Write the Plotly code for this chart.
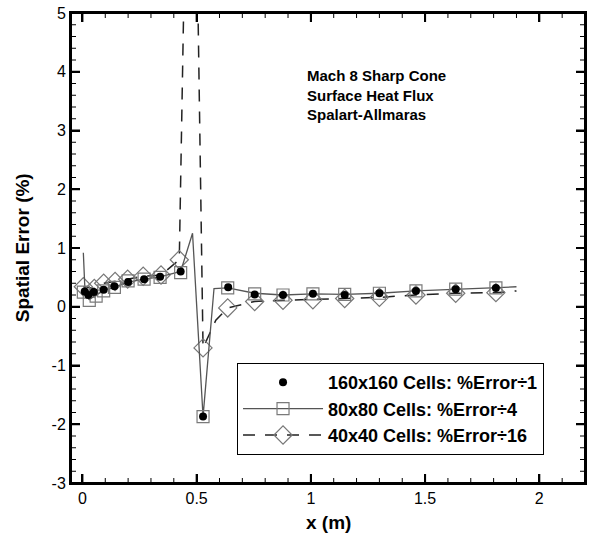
import numpy as np
import plotly.graph_objects as go

# 160x160 cells (%Error / 1) - symbols only
x160 = [0.01, 0.026, 0.05, 0.093, 0.14, 0.2, 0.27, 0.34, 0.43, 0.528, 0.638, 0.754, 0.878, 1.009, 1.148, 1.3, 1.46, 1.634, 1.81]
y160 = [0.26, 0.2, 0.25, 0.29, 0.35, 0.42, 0.47, 0.51, 0.6, -1.87, 0.33, 0.21, 0.2, 0.22, 0.2, 0.23, 0.27, 0.3, 0.32]

# 80x80 cells (%Error / 4) - full line
x80_line = [0.004, 0.012, 0.03, 0.06, 0.093, 0.14, 0.2, 0.27, 0.34, 0.43, 0.482, 0.528, 0.576, 0.636, 0.754, 0.878, 1.009, 1.148, 1.3, 1.46, 1.634, 1.81, 1.9]
y80_line = [0.92, 0.2, 0.12, 0.2, 0.27, 0.33, 0.42, 0.47, 0.51, 0.6, 1.25, -1.87, 0.31, 0.32, 0.23, 0.2, 0.22, 0.21, 0.23, 0.27, 0.3, 0.32, 0.34]
# 80x80 symbols
x80_sym = [0.004, 0.03, 0.06, 0.093, 0.14, 0.2, 0.27, 0.34, 0.43, 0.528, 0.636, 0.754, 0.878, 1.009, 1.148, 1.3, 1.46, 1.634, 1.81]
y80_sym = [0.25, 0.11, 0.18, 0.27, 0.33, 0.44, 0.47, 0.5, 0.58, -1.87, 0.32, 0.22, 0.2, 0.22, 0.21, 0.23, 0.27, 0.3, 0.32]

# 40x40 cells (%Error / 16) - full line
x40_line = [0.004, 0.052, 0.093, 0.143, 0.198, 0.266, 0.344, 0.424, 0.477, 0.528, 0.584, 0.636, 0.754, 0.878, 1.009, 1.148, 1.3, 1.46, 1.634, 1.81, 1.9]
y40_line = [0.34, 0.31, 0.4, 0.43, 0.47, 0.52, 0.54, 0.8, 12.6, -0.7, -0.23, -0.02, 0.09, 0.11, 0.12, 0.14, 0.16, 0.2, 0.23, 0.24, 0.27]
# 40x40 symbols
x40_sym = [0.004, 0.052, 0.093, 0.143, 0.198, 0.266, 0.344, 0.424, 0.528, 0.636, 0.754, 0.878, 1.009, 1.148, 1.3, 1.46, 1.634, 1.81]
y40_sym = [0.34, 0.31, 0.4, 0.43, 0.47, 0.52, 0.54, 0.8, -0.7, -0.02, 0.09, 0.11, 0.12, 0.14, 0.16, 0.2, 0.23, 0.24]

names = ["160x160 Cells: %Error÷1", "80x80 Cells: %Error÷4", "40x40 Cells: %Error÷16"]

# axis ticks
x_range = [-0.05, 2.2]
y_range = [-3, 5]
x_major = [0, 0.5, 1, 1.5, 2]
y_major = [-3, -2, -1, 0, 1, 2, 3, 4, 5]
x_minor_step = 0.1
y_minor_step = 0.2

FONT = "Arial, Liberation Sans, sans-serif"
W, H = 593, 537
ML, MR, MT, MB = 71, 8, 13, 54
PW, PH = W - ML - MR, H - MT - MB
MAJ, MIN = 9, 5

line80 = dict(color="#555555", width=1.3)
line40 = dict(color="#222222", width=1.5, dash="12px,10px")
sq = dict(symbol="square-open", size=12, color="#7a7a7a", line=dict(width=1.2))
dm = dict(symbol="diamond-open", size=14, color="#777777", line=dict(width=1.2))
ci = dict(symbol="circle", size=8, color="black")

fig = go.Figure()
fig.add_trace(go.Scatter(x=x40_line, y=y40_line, mode="lines", line=line40, showlegend=False))
fig.add_trace(go.Scatter(x=x40_sym, y=y40_sym, mode="markers", marker=dm, showlegend=False))
fig.add_trace(go.Scatter(x=x80_line, y=y80_line, mode="lines", line=line80, showlegend=False))
fig.add_trace(go.Scatter(x=x80_sym, y=y80_sym, mode="markers", marker=sq, showlegend=False))
fig.add_trace(go.Scatter(x=x160, y=y160, mode="markers", marker=ci, showlegend=False))
fig.add_trace(go.Scatter(x=[None], y=[None], mode="markers", marker=ci, name=names[0]))
fig.add_trace(go.Scatter(x=[None], y=[None], mode="lines+markers", line=line80, marker=sq, name=names[1]))
fig.add_trace(go.Scatter(x=[None], y=[None], mode="lines+markers", line=line40, marker=dm, name=names[2]))

# tick marks on all four sides (drawn as shapes so they always show)
x_minor = [v for v in np.round(np.arange(0, x_range[1], x_minor_step), 3) if not np.isclose(v % 0.5, 0) and not np.isclose(v % 0.5, 0.5)]
y_minor = [v for v in np.round(np.arange(y_range[0], y_range[1], y_minor_step), 3) if not np.isclose(v, round(v))]
shapes = []
tk = dict(color="black")
for vals, ln, w in ((x_major, MAJ, 2), (x_minor, MIN, 1)):
    for v in vals:
        shapes.append(dict(type="line", xref="x", yref="paper", x0=v, x1=v, y0=0, y1=ln / PH, line=dict(width=w, **tk)))
        shapes.append(dict(type="line", xref="x", yref="paper", x0=v, x1=v, y0=1, y1=1 - ln / PH, line=dict(width=w, **tk)))
for vals, ln, w in ((y_major, MAJ, 2), (y_minor, MIN, 1)):
    for v in vals:
        shapes.append(dict(type="line", xref="paper", yref="y", y0=v, y1=v, x0=0, x1=ln / PW, line=dict(width=w, **tk)))
        shapes.append(dict(type="line", xref="paper", yref="y", y0=v, y1=v, x0=1, x1=1 - ln / PW, line=dict(width=w, **tk)))
shapes.append(dict(type="rect", xref="paper", yref="paper", x0=0, x1=1, y0=0, y1=1, line=dict(color="black", width=2)))

axis_common = dict(
    showline=True, linecolor="black", linewidth=2, mirror="allticks",
    ticks="inside", ticklen=MAJ, tickwidth=2, tickcolor="black",
    showgrid=False, zeroline=False, automargin=False,
    tickfont=dict(size=16, color="black"),
)

fig.update_layout(
    width=W, height=H,
    margin=dict(l=ML, r=MR, t=MT, b=MB),
    paper_bgcolor="white", plot_bgcolor="white",
    showlegend=True,
    xaxis=dict(range=x_range, tickvals=x_major, ticktext=[f"{v:g}" for v in x_major], **axis_common),
    yaxis=dict(range=y_range, tickvals=y_major, ticktext=[f"{v:g}" for v in y_major], **axis_common),
    font=dict(family=FONT, color="black"),
    shapes=shapes,
    legend=dict(
        x=0.323, y=0.2553, xanchor="left", yanchor="top",
        bgcolor="white", bordercolor="black", borderwidth=1,
        font=dict(size=18, color="black", weight="bold"),
        itemwidth=80,
    ),
    annotations=[
        dict(x=0.974, y=4.12, xref="x", yref="y", xanchor="left", yanchor="top", align="left",
             showarrow=False,
             text="<b>Mach 8 Sharp Cone<br>Surface Heat Flux<br>Spalart-Allmaras</b>",
             font=dict(size=15, color="black")),
        dict(x=0.5, y=-0.085, xref="paper", yref="paper", xanchor="center", yanchor="middle",
             showarrow=False, text="<b>x (m)</b>", font=dict(size=19, color="black")),
        dict(x=-0.095, y=0.5, xref="paper", yref="paper", xanchor="center", yanchor="middle",
             showarrow=False, textangle=-90, text="<b>Spatial Error (%)</b>", font=dict(size=19, color="black")),
    ],
)

fig.write_html("out.html", post_script="document.body.style.margin='0px';", config={"displayModeBar": False})
